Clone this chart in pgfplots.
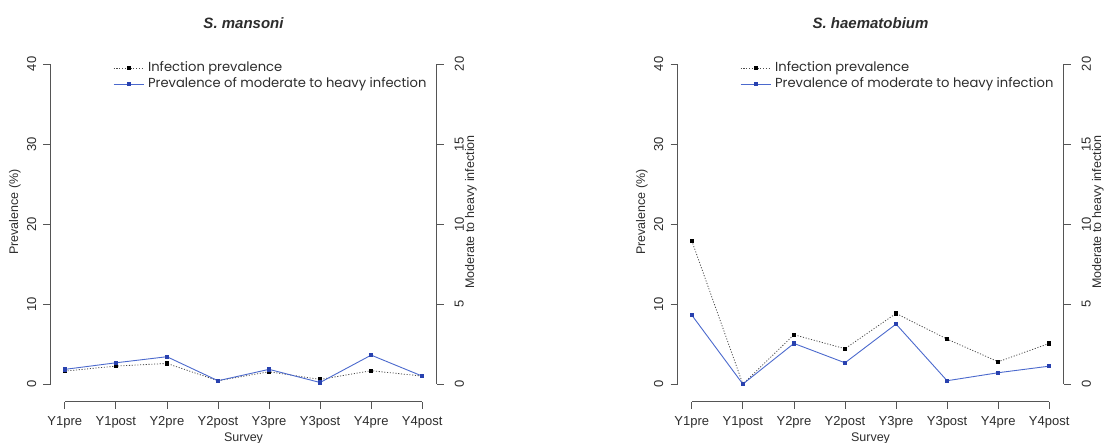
\documentclass[border=0pt]{standalone}
\usepackage{pgfplots}
\pgfplotsset{compat=1.18}
\usepackage{fontspec}
\setmainfont{Liberation Sans}
\newfontfamily\legfont{Poppins}

\definecolor{axgray}{RGB}{85,85,85}
\definecolor{txtgray}{RGB}{45,45,45}
\definecolor{blueline}{RGB}{75,105,205}
\definecolor{bluemark}{RGB}{40,65,175}

% survey data
\pgfplotstableread{
x  infm  heavym  infh  heavyh
0  1.62  0.92   17.90  4.31
1  2.25  1.33    0.00  0.00
2  2.58  1.71    6.17  2.54
3  0.42  0.21    4.42  1.33
4  1.54  0.92    8.83  3.75
5  0.58  0.10    5.62  0.21
6  1.67  1.81    2.79  0.71
7  1.00  0.50    5.08  1.12
}\survey

\pgfplotsset{
  panel/.style={
    scale only axis, width=386pt, height=350.5pt,
    xmin=-0.28, xmax=7.28, clip=false,
    axis line style={draw=none},
    tick align=outside, major tick length=7pt,
    tick style={axgray, line width=0.8pt},
    /pgf/number format/assume math mode=true,
    ticklabel style={font=\fontsize{13}{13}\selectfont, text=txtgray},
  },
  leftpanel/.style={panel,
    ymin=-2.2, ymax=41.6, ytick={0,10,20,30,40}, ytick pos=left,
    xtick={0,...,7}, xtick pos=bottom,
    xticklabels={Y1pre,Y1post,Y2pre,Y2post,Y3pre,Y3post,Y4pre,Y4post},
    xticklabel style={anchor=north, inner xsep=0pt, inner ysep=8pt},
    yticklabel style={rotate=90, anchor=south, inner xsep=0pt, inner ysep=7pt},
    xlabel={Survey}, ylabel={Prevalence (\%)},
    label style={font=\fontsize{12.5}{13}\selectfont, text=txtgray},
    xlabel style={at={(axis description cs:0.5,-0.106)}, anchor=center},
    ylabel style={at={(axis description cs:-0.092,0.541)}, anchor=center, rotate=0},
    title style={at={(axis description cs:0.5,1.063)}, anchor=center,
      font=\fontsize{15}{15}\selectfont\bfseries\itshape, text=txtgray},
  },
  rightpanel/.style={panel,
    ymin=-1.1, ymax=20.8, ytick={0,5,10,15,20}, ytick pos=right, xtick=\empty,
    yticklabel style={rotate=90, anchor=north, inner xsep=0pt, inner ysep=11pt},
    ylabel={Moderate to heavy infection},
    ylabel style={at={(axis description cs:1.089,0.541)}, anchor=center, rotate=0,
      font=\fontsize{12.5}{13}\selectfont, text=txtgray},
    legend cell align=left,
    legend style={at={(axis description cs:0.162,0.971)}, anchor=north west,
      draw=none, fill=none, inner sep=0pt, row sep=3pt,
      font=\legfont\fontsize{13.1}{15}\selectfont, text=txtgray,
      nodes={inner xsep=4pt, inner ysep=0pt, text height=10pt, text depth=3pt}},
    legend image code/.code={
      \draw[mark repeat=2, mark phase=2, #1] plot coordinates {(0pt,0pt) (15pt,0pt) (30pt,0pt)};},
  },
  infstyle/.style={black!70, line width=0.8pt, dash pattern=on 1.1pt off 1.7pt,
    mark=square*, mark size=1.6pt, mark options={solid, fill=black, draw=black}},
  heavystyle/.style={blueline, line width=0.9pt,
    mark=square*, mark size=1.6pt, mark options={solid, fill=bluemark, draw=bluemark}},
}

\begin{document}
\begin{tikzpicture}
\useasboundingbox (0,0) rectangle (1105pt,443pt);

% ---- S. mansoni ----
\begin{axis}[leftpanel, at={(50.5pt,41.3pt)}, anchor=south west, title={S. mansoni}]
  \addplot[infstyle] table[x=x, y=infm] {\survey};
  \draw[axgray, line width=0.8pt] (axis cs:-0.28,0) -- (axis cs:-0.28,40);
  \draw[axgray, line width=0.8pt] (axis cs:0,-2.2) -- (axis cs:7,-2.2);
\end{axis}
\begin{axis}[rightpanel, at={(50.5pt,41.3pt)}, anchor=south west]
  \addlegendimage{infstyle}
  \addlegendentry{Infection prevalence}
  \addplot[heavystyle] table[x=x, y=heavym] {\survey};
  \addlegendentry{Prevalence of moderate to heavy infection}
  \draw[axgray, line width=0.8pt] (axis cs:7.28,0) -- (axis cs:7.28,20);
\end{axis}

% ---- S. haematobium ----
\begin{axis}[leftpanel, at={(677.5pt,41.3pt)}, anchor=south west, title={S. haematobium}]
  \addplot[infstyle] table[x=x, y=infh] {\survey};
  \draw[axgray, line width=0.8pt] (axis cs:-0.28,0) -- (axis cs:-0.28,40);
  \draw[axgray, line width=0.8pt] (axis cs:0,-2.2) -- (axis cs:7,-2.2);
\end{axis}
\begin{axis}[rightpanel, at={(677.5pt,41.3pt)}, anchor=south west]
  \addlegendimage{infstyle}
  \addlegendentry{Infection prevalence}
  \addplot[heavystyle] table[x=x, y=heavyh] {\survey};
  \addlegendentry{Prevalence of moderate to heavy infection}
  \draw[axgray, line width=0.8pt] (axis cs:7.28,0) -- (axis cs:7.28,20);
\end{axis}
\end{tikzpicture}
\end{document}
